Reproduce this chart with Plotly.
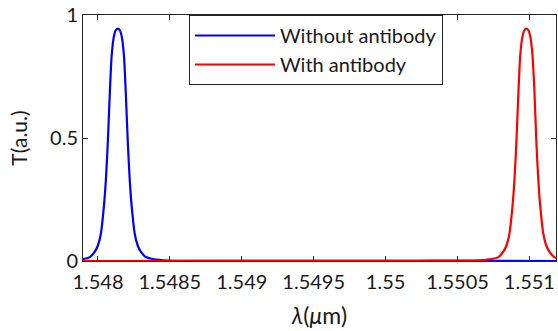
import plotly.graph_objects as go

# Wavelength (µm) and transmission values
wl_without = [1.547890, 1.547895, 1.547944, 1.547978, 1.547999, 1.548020, 1.548041, 1.548055,
              1.548069, 1.548083, 1.548096, 1.548110, 1.548124, 1.548138, 1.548152, 1.548166,
              1.548180, 1.548193, 1.548207, 1.548221, 1.548235, 1.548256, 1.548277, 1.548298,
              1.548332, 1.548381, 1.548485, 1.549000, 1.550000, 1.551200]
t_without = [0.008, 0.008, 0.016, 0.038, 0.062, 0.11, 0.22, 0.33,
             0.49, 0.69, 0.84, 0.91, 0.938, 0.945, 0.938, 0.91,
             0.84, 0.69, 0.49, 0.33, 0.22, 0.11, 0.062, 0.038,
             0.016, 0.008, 0.002, 0.0005, 0.0002, 0.0001]

wl_with = [1.547890, 1.549000, 1.550200, 1.550640, 1.550736, 1.550785, 1.550819, 1.550840,
           1.550861, 1.550882, 1.550896, 1.550910, 1.550924, 1.550937, 1.550951, 1.550965,
           1.550979, 1.550993, 1.551007, 1.551021, 1.551035, 1.551048, 1.551062, 1.551076,
           1.551097, 1.551118, 1.551139, 1.551173, 1.551208]
t_with = [0.0001, 0.0003, 0.001, 0.003, 0.008, 0.016, 0.038, 0.062,
          0.11, 0.22, 0.33, 0.49, 0.69, 0.84, 0.91, 0.938,
          0.945, 0.938, 0.91, 0.84, 0.69, 0.49, 0.33, 0.22,
          0.11, 0.062, 0.038, 0.016, 0.009]

x_tickvals = [1.548, 1.5485, 1.549, 1.5495, 1.55, 1.5505, 1.551]
x_ticktext = ["1.548", "1.5485", "1.549", "1.5495", "1.55", "1.5505", "1.551"]
y_tickvals = [0, 0.5, 1]
y_ticktext = ["0", "0.5", "1"]

FONT = "Lato, Open Sans, sans-serif"

fig = go.Figure()
fig.add_trace(go.Scatter(x=wl_without, y=t_without, mode="lines", name="Without antibody",
                         line=dict(color="#0000FF", width=2.2, shape="spline", smoothing=0.8)))
fig.add_trace(go.Scatter(x=wl_with, y=t_with, mode="lines", name="With antibody",
                         line=dict(color="#FF0000", width=2.2, shape="spline", smoothing=0.8)))

axis_common = dict(showline=True, linecolor="#262626", linewidth=1, mirror="ticks",
                   ticks="inside", ticklen=5, tickcolor="#262626", showgrid=False,
                   zeroline=False, tickfont=dict(family=FONT, size=20, color="#1a1a1a"))

fig.update_layout(
    width=558, height=331,
    margin=dict(l=83, r=2, t=15, b=70),
    paper_bgcolor="white", plot_bgcolor="white",
    font=dict(family=FONT, size=20, color="#1a1a1a"),
    xaxis=dict(range=[1.547896, 1.551185], tickvals=x_tickvals, ticktext=x_ticktext,
               ticklabelstandoff=3,
               title=dict(text="<i>λ</i>(<i>μ</i>m)", font=dict(family=FONT, size=23), standoff=15),
               **axis_common),
    yaxis=dict(range=[0, 1], tickvals=y_tickvals, ticktext=y_ticktext,
               title=dict(text="T(a.u.)", font=dict(family=FONT, size=21), standoff=16),
               **axis_common),
    legend=dict(x=0.224, y=1, xanchor="left", yanchor="top", bgcolor="white",
                bordercolor="#262626", borderwidth=1, itemwidth=80,
                font=dict(family=FONT, size=20, color="#1a1a1a"),
                tracegroupgap=0),
    showlegend=True,
)

fig.write_html("out.html")
